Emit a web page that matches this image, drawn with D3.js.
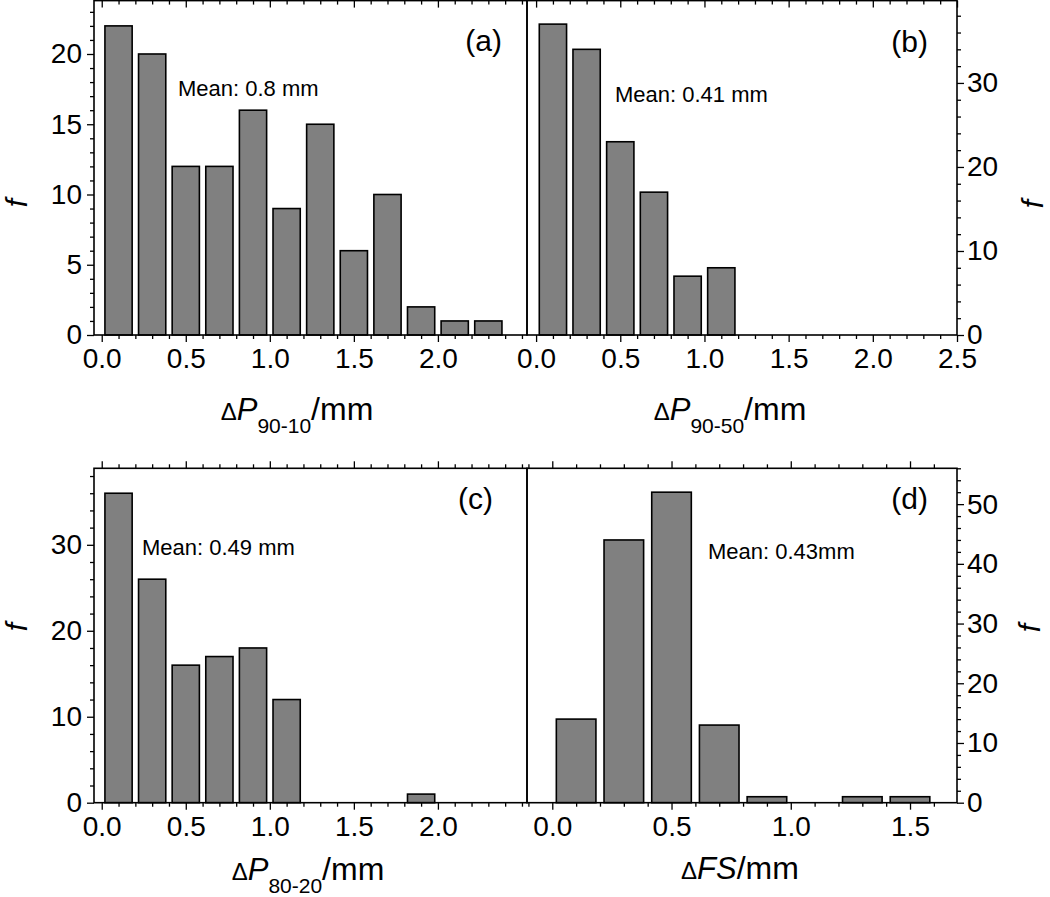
<!DOCTYPE html>
<html><head><meta charset="utf-8">
<script src="https://cdn.jsdelivr.net/npm/d3@7"></script>
<style>
body{margin:0;background:#fff}
text{font-family:"Liberation Sans",Arial,Helvetica,sans-serif;fill:#000}
</style>
</head><body>
<svg id="chart" width="1050" height="897"></svg>
<script>
// ---------- data ----------
const binsA = [0.1,0.3,0.5,0.7,0.9,1.1,1.3,1.5,1.7,1.9,2.1,2.3];
const countsA = [22,20,12,12,16,9,15,6,10,2,1,1];
const binsB = [0.1,0.3,0.5,0.7,0.9,1.1];
const countsB = [37,34,23,17,7,8];
const binsC = [0.1,0.3,0.5,0.7,0.9,1.1,1.3,1.5,1.7,1.9,2.1,2.3];
const countsC = [36,26,16,17,18,12,0,0,0,1,0,0];
const binsD = [0.1,0.3,0.5,0.7,0.9,1.1,1.3,1.5];
const countsD = [14,44,52,13,1,0,1,1];

const xTicksA = [0.0,0.5,1.0,1.5,2.0];
const xTicksB = [0.0,0.5,1.0,1.5,2.0,2.5];
const xTicksC = [0.0,0.5,1.0,1.5,2.0];
const xTicksD = [0.0,0.5,1.0,1.5];
const yTicksA = [0,5,10,15,20];
const yTicksB = [0,10,20,30];
const yTicksC = [0,10,20,30];
const yTicksD = [0,10,20,30,40,50];

const meanA = "Mean: 0.8 mm";
const meanB = "Mean: 0.41 mm";
const meanC = "Mean: 0.49 mm";
const meanD = "Mean: 0.43mm";

// ---------- drawing ----------
const svg = d3.select("#chart");
const FONT = '"Liberation Sans",Arial,Helvetica,sans-serif';

function rangeStep(lo, hi, step){
  const out=[]; const s=Math.ceil(lo/step-1e-9), e=Math.floor(hi/step+1e-9);
  for(let i=s;i<=e;i++) out.push(+(i*step).toFixed(6));
  return out;
}

function panel(cfg){
  const g = svg.append("g");
  const x = d3.scaleLinear().domain(cfg.xDomain).range([cfg.left, cfg.right]);
  const y = d3.scaleLinear().domain([0, cfg.yMax]).range([cfg.bottom, cfg.top]);
  const bw = cfg.barWidth;
  const data = cfg.bins.map((b,i)=>({c:b, v:cfg.counts[i]})).filter(d=>d.v>0);

  g.selectAll("rect.bar").data(data).join("rect")
    .attr("class","bar")
    .attr("x", d=>x(d.c-bw/2)).attr("width", d=>x(d.c+bw/2)-x(d.c-bw/2))
    .attr("y", d=>y(d.v)).attr("height", d=>y(0)-y(d.v))
    .attr("fill","#808080").attr("stroke","#000").attr("stroke-width",1.6);

  const minorX = rangeStep(cfg.xDomain[0], cfg.xDomain[1], 0.1).filter(v=>!cfg.xTicks.some(t=>Math.abs(t-v)<1e-6));
  const minorY = rangeStep(0, cfg.yMax, cfg.yMinor).filter(v=>!cfg.yTicks.includes(v));

  function styleAxis(sel){
    sel.select(".domain").remove();
    sel.selectAll("line").attr("stroke","#000").attr("stroke-width",1.3);
    sel.selectAll("text").style("font-family",FONT).style("font-size","28px").attr("fill","#000");
  }

  // bottom axis
  g.append("g").attr("transform",`translate(0,${cfg.bottom})`)
    .call(d3.axisBottom(x).tickValues(minorX).tickSize(4).tickFormat("")).call(styleAxis);
  g.append("g").attr("transform",`translate(0,${cfg.bottom})`)
    .call(d3.axisBottom(x).tickValues(cfg.xTicks).tickSize(7).tickPadding(6).tickFormat(d3.format(".1f"))).call(styleAxis);
  // top axis
  g.append("g").attr("transform",`translate(0,${cfg.top})`)
    .call(d3.axisBottom(x).tickValues(minorX).tickSize(cfg.topIn?4:-4).tickFormat("")).call(styleAxis);
  g.append("g").attr("transform",`translate(0,${cfg.top})`)
    .call(d3.axisBottom(x).tickValues(cfg.xTicks).tickSize(cfg.topIn?7:-7).tickFormat("")).call(styleAxis);

  // y axis
  if(cfg.ySide==="left"){
    g.append("g").attr("transform",`translate(${cfg.left},0)`)
      .call(d3.axisLeft(y).tickValues(minorY).tickSize(4).tickFormat("")).call(styleAxis);
    g.append("g").attr("transform",`translate(${cfg.left},0)`)
      .call(d3.axisLeft(y).tickValues(cfg.yTicks).tickSize(7).tickPadding(5).tickFormat(d3.format("d"))).call(styleAxis);
  } else {
    g.append("g").attr("transform",`translate(${cfg.right},0)`)
      .call(d3.axisRight(y).tickValues(minorY).tickSize(4).tickFormat("")).call(styleAxis);
    g.append("g").attr("transform",`translate(${cfg.right},0)`)
      .call(d3.axisRight(y).tickValues(cfg.yTicks).tickSize(7).tickPadding(3).tickFormat(d3.format("d"))).call(styleAxis);
  }

  // frame
  g.append("rect").attr("x",cfg.left).attr("y",cfg.top)
    .attr("width",cfg.right-cfg.left).attr("height",cfg.bottom-cfg.top)
    .attr("fill","none").attr("stroke","#000").attr("stroke-width",1.6);

  // panel label
  g.append("text").attr("x",cfg.labelPos[0]).attr("y",cfg.labelPos[1])
    .attr("text-anchor","end").style("font-size","30px").text(cfg.label);
  // mean
  g.append("text").attr("x",cfg.meanPos[0]).attr("y",cfg.meanPos[1])
    .style("font-size","22px").text(cfg.mean);

  // x title
  const t = g.append("text").attr("x",cfg.titlePos[0]).attr("y",cfg.titlePos[1]).attr("text-anchor","middle");
  t.append("tspan").style("font-size","24px").text("\u0394");
  t.append("tspan").style("font-size","31px").style("font-style","italic").text(cfg.titleVar);
  if(cfg.titleSub){
    t.append("tspan").style("font-size","21px").attr("dy",13).text(cfg.titleSub);
    t.append("tspan").style("font-size","32px").attr("dy",-13).text("/mm");
  } else {
    t.append("tspan").style("font-size","32px").text("/mm");
  }

  // y title
  g.append("text").attr("transform",`translate(${cfg.fPos[0]},${cfg.fPos[1]}) rotate(-90)`)
    .attr("text-anchor","middle").style("font-size","30px").style("font-style","italic").text("f");
}

panel({bins:binsA, counts:countsA, xTicks:xTicksA, yTicks:yTicksA, yMinor:1,
  xDomain:[-0.046,2.53], yMax:23.8, left:94, right:527, top:0.6, bottom:335, barWidth:0.162,
  ySide:"left", topIn:true, label:"(a)", labelPos:[502,51], mean:meanA, meanPos:[178,96],
  titlePos:[297,420], titleVar:"P", titleSub:"90-10", fPos:[27,203]});
panel({bins:binsB, counts:countsB, xTicks:xTicksB, yTicks:yTicksB, yMinor:2,
  xDomain:[-0.054,2.5], yMax:39.8, left:527, right:957, top:0.6, bottom:335, barWidth:0.162,
  ySide:"right", topIn:true, label:"(b)", labelPos:[928,52], mean:meanB, meanPos:[615,102],
  titlePos:[730,420], titleVar:"P", titleSub:"90-50", fPos:[1043,204]});
panel({bins:binsC, counts:countsC, xTicks:xTicksC, yTicks:yTicksC, yMinor:2,
  xDomain:[-0.046,2.53], yMax:38.9, left:94, right:527, top:468.3, bottom:802.7, barWidth:0.162,
  ySide:"left", topIn:false, label:"(c)", labelPos:[493,509], mean:meanC, meanPos:[142,555],
  titlePos:[308,880], titleVar:"P", titleSub:"80-20", fPos:[27,627]});
panel({bins:binsD, counts:countsD, xTicks:xTicksD, yTicks:yTicksD, yMinor:2,
  xDomain:[-0.106,1.697], yMax:56, left:527, right:957, top:468.3, bottom:802.7, barWidth:0.166,
  ySide:"right", topIn:false, label:"(d)", labelPos:[928,509], mean:meanD, meanPos:[708,559],
  titlePos:[740,879], titleVar:"FS", titleSub:null, fPos:[1040,628]});
</script>
</body></html>
